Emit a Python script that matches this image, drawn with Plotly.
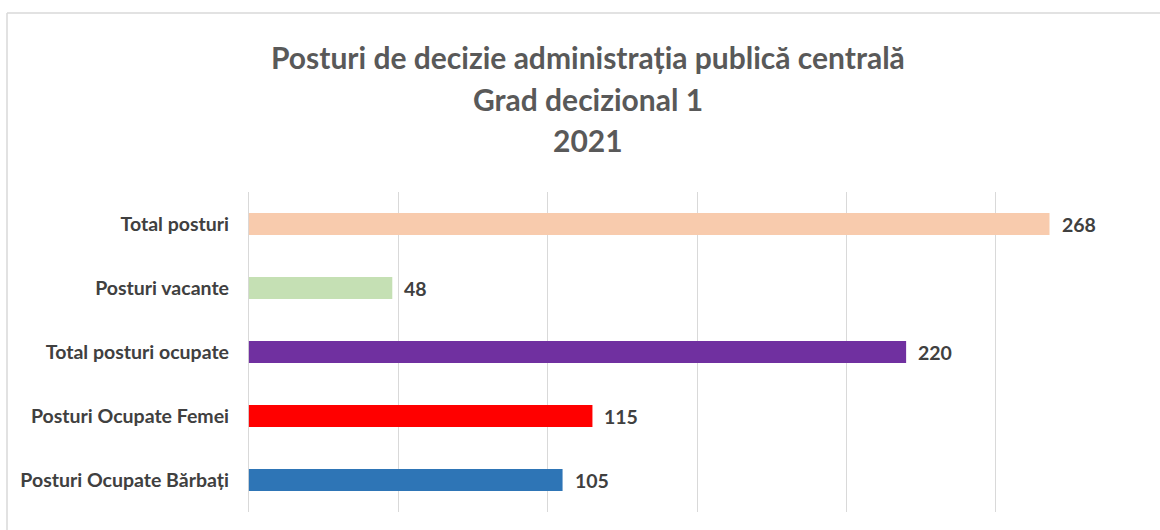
import plotly.graph_objects as go

categories = ["Total posturi", "Posturi vacante", "Total posturi ocupate",
              "Posturi Ocupate Femei", "Posturi Ocupate Bărbați"]
values = [268, 48, 220, 115, 105]
colors = ["#F8CBAD", "#C5E0B4", "#7030A0", "#FF0000", "#2E75B6"]
title_lines = ["Posturi de decizie administrația publică centrală",
               "Grad decizional 1", "2021"]

W, H = 1160, 530
L, R, T, B = 248, 14, 192, 18
pw, ph = W - L - R, H - T - B


def px_x(x):
    return (x - L) / pw


def px_y(y):
    return (H - B - y) / ph


FONT = "Lato"

fig = go.Figure(go.Bar(
    y=categories, x=values, orientation="h",
    marker=dict(color=colors, line=dict(width=0)),
    hoverinfo="x+y",
))

annotations = []
for c, v in zip(categories, values):
    annotations.append(dict(x=v, y=c, xref="x", yref="y", text=str(v),
                            showarrow=False, xanchor="left", yanchor="middle",
                            xshift=10,
                            font=dict(family=FONT, size=19.5, color="#404040", weight="bold")))

for line, ypx in zip(title_lines, [57, 99, 140]):
    annotations.append(dict(x=px_x(588), y=px_y(ypx), xref="paper", yref="paper",
                            text=line, showarrow=False, xanchor="center", yanchor="middle",
                            font=dict(family=FONT, size=30, color="#595959", weight="bold")))

shapes = [
    dict(type="line", xref="paper", yref="paper", x0=px_x(7), x1=px_x(W + 5),
         y0=px_y(13), y1=px_y(13), line=dict(color="#D9D9D9", width=1.5)),
    dict(type="line", xref="paper", yref="paper", x0=px_x(7), x1=px_x(7),
         y0=px_y(13), y1=px_y(H + 5), line=dict(color="#D9D9D9", width=1.5)),
]

fig.update_layout(
    width=W, height=H,
    margin=dict(l=L, r=R, t=T, b=B, autoexpand=False),
    paper_bgcolor="white", plot_bgcolor="white",
    bargap=0.66,
    showlegend=False,
    annotations=annotations,
    shapes=shapes,
    font=dict(family=FONT),
)
fig.update_xaxes(range=[-0.3, 300.3], dtick=50, tick0=0, showticklabels=False,
                 showgrid=True, gridcolor="#D9D9D9", gridwidth=1,
                 zeroline=True, zerolinecolor="#D9D9D9", zerolinewidth=1,
                 showline=False, fixedrange=True)
fig.update_yaxes(categoryorder="array", categoryarray=categories[::-1],
                 showgrid=False, zeroline=False, showline=False,
                 ticklabelstandoff=18,
                 tickfont=dict(family=FONT, size=19.5, color="#404040", weight="bold"),
                 fixedrange=True)

fig.write_html("out.html", config={"displayModeBar": False},
               post_script="document.body.style.margin='0';document.body.style.overflow='hidden';")
